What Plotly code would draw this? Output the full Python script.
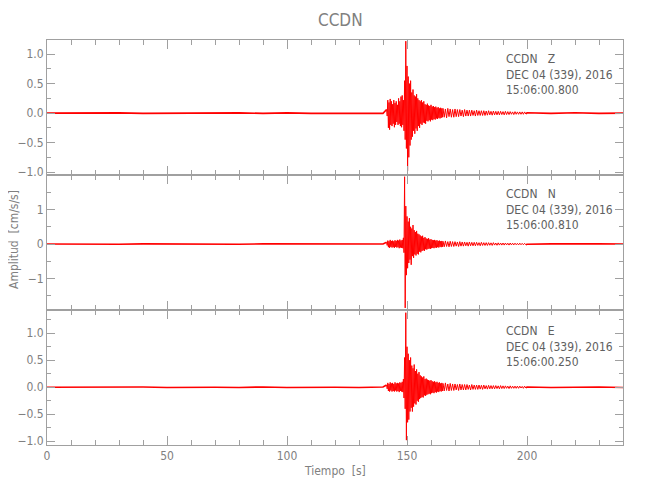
import plotly.graph_objects as go
from plotly.subplots import make_subplots

# ---------------- data ----------------
components = ["Z", "N", "E"]
start_times = ["15:06:00.800", "15:06:00.810", "15:06:00.250"]
station = "CCDN"
date_label = "DEC 04 (339), 2016"

# pre-event noise, sampled every 10 s from 0 to 140 s
t_pre = [0, 10, 20, 30, 40, 50, 60, 70, 80, 90, 100, 110, 120, 130, 140]
z_pre = [0.0, 0.004, -0.004, 0.004, -0.004, 0.0, 0.004, -0.004, 0.004, -0.004, 0.004, -0.004, 0.0, 0.004, -0.004]
n_pre = [0.0, -0.005, 0.005, -0.005, 0.005, 0.0, -0.005, 0.005, -0.005, 0.005, 0.0, 0.005, -0.005, 0.005, 0.0]
e_pre = [0.0, 0.004, -0.004, 0.0, 0.004, -0.004, 0.004, 0.0, -0.004, 0.004, -0.004, 0.004, 0.0, -0.004, 0.004]

# event: peak (upper) / trough (lower) per 0.5 s bin starting at 141.5 s
fine_t0 = 141.5
fine_dt = 0.5
z_up = [0.06, 0.22, 0.18, 0.24, 0.20, 0.15, 0.22, 0.17, 0.20, 0.14, 0.25, 0.20, 0.28, 0.30, 0.22,
        0.55, 1.22, 0.80, 0.62, 0.50, 0.55, 0.35, 0.40, 0.30, 0.28, 0.32, 0.25, 0.22, 0.20, 0.22,
        0.18, 0.20, 0.15, 0.14, 0.16, 0.13, 0.12, 0.14, 0.11, 0.12, 0.10, 0.11, 0.09, 0.10, 0.08,
        0.09, 0.08]
z_lo = [-0.05, -0.25, -0.28, -0.20, -0.22, -0.18, -0.24, -0.20, -0.15, -0.20, -0.18, -0.22, -0.24,
        -0.20, -0.30, -0.45, -0.60, -0.98, -0.75, -0.55, -0.45, -0.40, -0.30, -0.35, -0.26, -0.30,
        -0.22, -0.25, -0.18, -0.20, -0.16, -0.17, -0.18, -0.13, -0.14, -0.12, -0.14, -0.11, -0.12,
        -0.10, -0.11, -0.09, -0.10, -0.08, -0.09, -0.08, -0.07]
n_up = [0.05, 0.10, 0.08, 0.12, 0.09, 0.10, 0.08, 0.11, 0.09, 0.12, 0.10, 0.13, 0.10, 0.12, 0.18,
        1.95, 1.10, 0.80, 0.65, 0.75, 0.50, 0.45, 0.55, 0.40, 0.35, 0.38, 0.30, 0.28, 0.25, 0.22,
        0.24, 0.18, 0.20, 0.16, 0.15, 0.17, 0.13, 0.14, 0.12, 0.11, 0.12, 0.10, 0.11, 0.09, 0.10,
        0.08, 0.09]
n_lo = [-0.04, -0.09, -0.11, -0.08, -0.10, -0.09, -0.11, -0.08, -0.10, -0.09, -0.12, -0.10, -0.11,
        -0.12, -0.25, -1.85, -0.90, -0.70, -0.55, -0.45, -0.60, -0.35, -0.40, -0.30, -0.33, -0.28,
        -0.30, -0.22, -0.24, -0.20, -0.18, -0.20, -0.15, -0.16, -0.14, -0.13, -0.14, -0.12, -0.11,
        -0.12, -0.10, -0.11, -0.09, -0.10, -0.08, -0.09, -0.08]
e_up = [0.04, 0.08, 0.06, 0.09, 0.07, 0.08, 0.06, 0.09, 0.07, 0.08, 0.07, 0.09, 0.08, 0.10, 0.15,
        0.55, 1.38, 0.75, 0.62, 0.50, 0.55, 0.40, 0.35, 0.42, 0.30, 0.33, 0.25, 0.28, 0.22, 0.20,
        0.18, 0.20, 0.15, 0.16, 0.14, 0.13, 0.12, 0.13, 0.11, 0.10, 0.11, 0.09, 0.10, 0.08, 0.09,
        0.07, 0.08]
e_lo = [-0.03, -0.07, -0.08, -0.06, -0.08, -0.07, -0.08, -0.06, -0.08, -0.07, -0.09, -0.07, -0.08,
        -0.09, -0.20, -0.40, -0.98, -0.65, -0.60, -0.45, -0.38, -0.45, -0.36, -0.30, -0.32, -0.25,
        -0.27, -0.22, -0.20, -0.18, -0.19, -0.15, -0.16, -0.14, -0.13, -0.12, -0.13, -0.11, -0.10,
        -0.11, -0.09, -0.10, -0.08, -0.09, -0.07, -0.08, -0.07]

# coda: peak / trough per 1 s bin starting at 165 s
coda_t0 = 165.0
coda_dt = 1.0
z_coda_up = [0.08, 0.07, 0.08, 0.07, 0.06, 0.07, 0.06, 0.06, 0.05, 0.06, 0.05, 0.05, 0.05, 0.04, 0.05,
             0.04, 0.04, 0.04, 0.035, 0.04, 0.03, 0.035, 0.03, 0.03, 0.03, 0.025, 0.03, 0.025, 0.025,
             0.02, 0.025, 0.02, 0.02, 0.02, 0.02]
z_coda_lo = [-0.07, -0.08, -0.06, -0.07, -0.07, -0.06, -0.06, -0.05, -0.06, -0.05, -0.05, -0.05, -0.04,
             -0.05, -0.04, -0.04, -0.04, -0.04, -0.035, -0.03, -0.035, -0.03, -0.03, -0.03, -0.025,
             -0.03, -0.025, -0.025, -0.02, -0.025, -0.02, -0.02, -0.02, -0.02, -0.015]
n_coda_up = [0.08, 0.09, 0.07, 0.08, 0.07, 0.07, 0.06, 0.07, 0.06, 0.06, 0.05, 0.06, 0.05, 0.05, 0.05,
             0.04, 0.05, 0.04, 0.04, 0.04, 0.035, 0.04, 0.03, 0.035, 0.03, 0.03, 0.03, 0.025, 0.03,
             0.025, 0.025, 0.02, 0.025, 0.02, 0.02]
n_coda_lo = [-0.08, -0.07, -0.08, -0.07, -0.07, -0.06, -0.07, -0.06, -0.06, -0.05, -0.06, -0.05, -0.05,
             -0.05, -0.04, -0.05, -0.04, -0.04, -0.04, -0.035, -0.04, -0.03, -0.035, -0.03, -0.03,
             -0.03, -0.025, -0.03, -0.025, -0.025, -0.02, -0.025, -0.02, -0.02, -0.02]
e_coda_up = [0.07, 0.08, 0.06, 0.07, 0.06, 0.06, 0.05, 0.06, 0.05, 0.05, 0.05, 0.04, 0.05, 0.04, 0.04,
             0.04, 0.035, 0.04, 0.03, 0.035, 0.03, 0.03, 0.03, 0.025, 0.03, 0.025, 0.025, 0.02, 0.025,
             0.02, 0.02, 0.02, 0.02, 0.015, 0.02]
e_coda_lo = [-0.07, -0.06, -0.07, -0.06, -0.06, -0.05, -0.06, -0.05, -0.05, -0.05, -0.04, -0.05, -0.04,
             -0.04, -0.04, -0.035, -0.04, -0.03, -0.035, -0.03, -0.03, -0.03, -0.025, -0.03, -0.025,
             -0.025, -0.02, -0.025, -0.02, -0.02, -0.02, -0.02, -0.015, -0.02, -0.015]

# post-event noise, every 10 s from 200 to 240 s
t_post = [200, 210, 220, 230, 240]
z_post = [0.005, -0.005, 0.005, -0.005, 0.0]
n_post = [-0.005, 0.005, -0.005, 0.005, 0.0]
e_post = [0.005, -0.005, 0.0, 0.005, -0.005]

y_ranges = [[-1.05, 1.24], [-1.91, 2.0], [-1.07, 1.43]]
y_tickvals = [[-1.0, -0.5, 0.0, 0.5, 1.0], [-1, 0, 1], [-1.0, -0.5, 0.0, 0.5, 1.0]]
y_ticktext = [["−1.0", "−0.5", "0.0", "0.5", "1.0"], ["−1", "0", "1"],
              ["−1.0", "−0.5", "0.0", "0.5", "1.0"]]
y_minor = [0.25, 0.5, 0.25]

series = [
    (z_pre, z_up, z_lo, z_coda_up, z_coda_lo, z_post),
    (n_pre, n_up, n_lo, n_coda_up, n_coda_lo, n_post),
    (e_pre, e_up, e_lo, e_coda_up, e_coda_lo, e_post),
]


def build_event(up, lo, cup, clo):
    xs, ys = [], []
    for i, (u, l) in enumerate(zip(up, lo)):
        t = fine_t0 + i * fine_dt
        xs += [t, t + fine_dt / 2]
        ys += [u, l]
    for i, (u, l) in enumerate(zip(cup, clo)):
        t = coda_t0 + i * coda_dt
        xs += [t, t + coda_dt / 2]
        ys += [u, l]
    return xs, ys


# ---------------- figure ----------------
FONT = "DejaVu Sans Condensed, Liberation Sans Narrow, sans-serif"
AX = "#a0a0a0"
TXT = "#808080"
RED = "#ff0000"

fig = make_subplots(rows=3, cols=1, shared_xaxes=True, vertical_spacing=0)

for r, (pre, up, lo, cup, clo, post) in enumerate(series, start=1):
    ex, ey = build_event(up, lo, cup, clo)
    # quiet parts before and after the event (slightly thicker, fuzzy baseline)
    fig.add_trace(go.Scatter(x=t_pre + [ex[0]], y=pre + [ey[0]], mode="lines",
                             line=dict(color=RED, width=1.6), showlegend=False,
                             hoverinfo="skip"), row=r, col=1)
    fig.add_trace(go.Scatter(x=[ex[-1]] + t_post, y=[ey[-1]] + post, mode="lines",
                             line=dict(color=RED, width=1.6), showlegend=False,
                             hoverinfo="skip"), row=r, col=1)
    fig.add_trace(go.Scatter(x=ex, y=ey, mode="lines", line=dict(color=RED, width=1),
                             showlegend=False, hoverinfo="skip"), row=r, col=1)
    fig.update_yaxes(range=y_ranges[r - 1], tickmode="array", tickvals=y_tickvals[r - 1],
                     ticktext=y_ticktext[r - 1],
                     minor=dict(ticks="inside", ticklen=4, tickcolor=AX, dtick=y_minor[r - 1],
                                tick0=0, showgrid=False),
                     row=r, col=1)
    fig.update_xaxes(range=[0, 240], dtick=50, tick0=0,
                     minor=dict(ticks="inside", ticklen=5, tickcolor=AX, dtick=10, tick0=0,
                                showgrid=False),
                     row=r, col=1)

fig.update_xaxes(showline=True, linecolor=AX, linewidth=1, mirror="ticks", ticks="inside",
                 ticklen=9, tickcolor=AX, showgrid=False, zeroline=False, automargin=False,
                 tickfont=dict(family=FONT, size=12, color=TXT))
fig.update_yaxes(showline=True, linecolor=AX, linewidth=1, mirror="ticks", ticks="inside",
                 ticklen=8, tickcolor=AX, showgrid=False, zeroline=False, automargin=False,
                 tickfont=dict(family=FONT, size=12, color=TXT))

# the page body adds an 8 px offset; the figure is sized to fit the 650x500 view
OFF = 8
W, H = 650 - 2 * OFF, 500 - 2 * OFF
L, T = 47 - OFF, 40 - OFF
R = W - (623 - OFF)
B = H - (445 - OFF)
pw, ph = W - L - R, H - T - B


def px(x):
    return (x - OFF - L) / pw


def py(y):
    return (H - B - (y - OFF)) / ph


annotations = [
    dict(text=station, x=px(340), y=py(20), xref="paper", yref="paper", showarrow=False,
         xanchor="center", yanchor="middle", font=dict(family=FONT, size=17, color=TXT)),
    dict(text="Tiempo  [s]", x=px(335), y=py(471), xref="paper", yref="paper", showarrow=False,
         xanchor="center", yanchor="middle", font=dict(family=FONT, size=12, color=TXT)),
    dict(text="Amplitud  [cm/s/s]", x=px(14), y=py(240), xref="paper", yref="paper",
         showarrow=False, textangle=-90, xanchor="center", yanchor="middle",
         font=dict(family=FONT, size=12, color=TXT)),
]
block_tops = [50, 185, 322]
for comp, st, top in zip(components, start_times, block_tops):
    annotations.append(dict(
        text=f"{station}\u00a0\u00a0\u00a0{comp}<br>{date_label}<br>{st}",
        x=px(504), y=py(top), xref="paper", yref="paper", showarrow=False, align="left",
        xanchor="left", yanchor="top", font=dict(family=FONT, size=12, color="#606060")))

fig.update_layout(width=W, height=H, margin=dict(l=L, r=R, t=T, b=B, autoexpand=False),
                  paper_bgcolor="white", plot_bgcolor="white", annotations=annotations,
                  font=dict(family=FONT, color=TXT))

fig.write_html("out.html")
